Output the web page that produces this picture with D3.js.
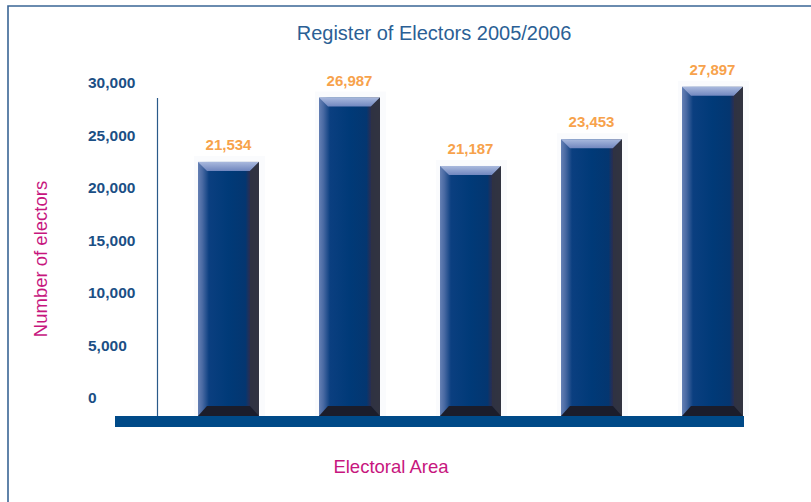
<!DOCTYPE html>
<html><head><meta charset="utf-8">
<script src="https://cdn.jsdelivr.net/npm/d3@7"></script>
<style>body{margin:0;background:#fff}svg{display:block}</style>
</head><body>
<svg id="c" width="811" height="502"></svg>
<script>
const title = "Register of Electors 2005/2006";
const categories = ["Area 1","Area 2","Area 3","Area 4","Area 5"];
const electors = [21534, 26987, 21187, 23453, 27897];
const yTicks = [0, 5000, 10000, 15000, 20000, 25000, 30000];
const yTitle = "Number of electors";
const xTitle = "Electoral Area";

const svg = d3.select("#c");
const fmt = d3.format(",");
const FONT = "'Liberation Sans', Arial, sans-serif";

// frame
svg.append("path").attr("d","M8,502 L8,6 L811,6").attr("fill","none")
  .attr("stroke","#3a6595").attr("stroke-width",1.6);

// title
svg.append("text").attr("x",434).attr("y",40).attr("text-anchor","middle")
  .attr("font-family",FONT).attr("font-size",20).attr("fill","#2b5f95").text(title);

const x = d3.scaleBand().domain(categories).range([198,743]).paddingInner(0.496).paddingOuter(0);
const y = d3.scaleLinear().domain([0,30000]).range([416,62]);
const yLab = d3.scaleLinear().domain([0,30000]).range([398,83]);

// tick labels
const ax = svg.append("g").attr("transform","translate(88,0)")
  .call(d3.axisLeft(yLab).tickValues(yTicks).tickSize(0).tickPadding(0).tickFormat(fmt));
ax.select(".domain").remove();
ax.selectAll("text").attr("text-anchor","start").attr("x",0)
  .attr("font-family",FONT).attr("font-size",15.5).attr("font-weight","bold").attr("fill","#1b4f85");

// y axis line
svg.append("line").attr("x1",157.5).attr("x2",157.5).attr("y1",98).attr("y2",416)
  .attr("stroke","#2a5a8a").attr("stroke-width",1.2);

// gradients
const defs = svg.append("defs");
const g1 = defs.append("linearGradient").attr("id","barG").attr("x1","0").attr("x2","1").attr("y1","0").attr("y2","0");
[["0%","#6580b4"],["7%","#4a6aa3"],["18%","#0b3f80"],["50%","#003a78"],["78%","#043670"],["84%","#262f55"],["100%","#3b3b48"]]
  .forEach(s=>g1.append("stop").attr("offset",s[0]).attr("stop-color",s[1]));
const g2 = defs.append("linearGradient").attr("id","topG").attr("x1","0").attr("x2","0").attr("y1","0").attr("y2","1");
[["0%","#a9b9dd"],["100%","#7187bf"]].forEach(s=>g2.append("stop").attr("offset",s[0]).attr("stop-color",s[1]));

const bev = 9;
const bars = svg.append("g").selectAll("g").data(electors).join("g");
// faint shadow
bars.append("rect").attr("x",(d,i)=>x(categories[i])-4).attr("y",d=>y(d)-6)
  .attr("width",x.bandwidth()+10).attr("height",d=>416-y(d)+6).attr("fill","#fafbfd");
bars.append("rect").attr("x",(d,i)=>x(categories[i])).attr("y",d=>y(d))
  .attr("width",x.bandwidth()).attr("height",d=>416-y(d)).attr("fill","url(#barG)");
// top bevel
bars.append("path").attr("fill","url(#topG)").attr("d",(d,i)=>{
  const x0=x(categories[i]), x1=x0+x.bandwidth(), t=y(d);
  return `M${x0},${t}L${x1},${t}L${x1-bev},${t+bev}L${x0+bev},${t+bev}Z`;});
// right side
bars.append("path").attr("fill","#30323f").attr("opacity",0.85).attr("d",(d,i)=>{
  const x0=x(categories[i]), x1=x0+x.bandwidth(), t=y(d);
  return `M${x1-bev},${t+bev}L${x1},${t}L${x1},416L${x1-bev},${416-10}Z`;});
// bottom
bars.append("path").attr("fill","#1b1d2b").attr("d",(d,i)=>{
  const x0=x(categories[i]), x1=x0+x.bandwidth();
  return `M${x0+bev},406L${x1-bev},406L${x1},416L${x0},416Z`;});

// value labels
svg.append("g").selectAll("text").data(electors).join("text")
  .attr("x",(d,i)=>x(categories[i])+x.bandwidth()/2).attr("y",d=>y(d)-12)
  .attr("text-anchor","middle").attr("font-family",FONT).attr("font-size",15)
  .attr("font-weight","bold").attr("fill","#f7a24b").text(d=>fmt(d));

// baseline band
svg.append("rect").attr("x",115).attr("y",416).attr("width",629).attr("height",11).attr("fill","#004a88");

// axis titles
svg.append("text").attr("transform","translate(47,259) rotate(-90)").attr("text-anchor","middle")
  .attr("font-family",FONT).attr("font-size",18.5).attr("fill","#c7167e").text(yTitle);
svg.append("text").attr("x",391).attr("y",473).attr("text-anchor","middle")
  .attr("font-family",FONT).attr("font-size",18.5).attr("fill","#c7167e").text(xTitle);
</script>
</body></html>
